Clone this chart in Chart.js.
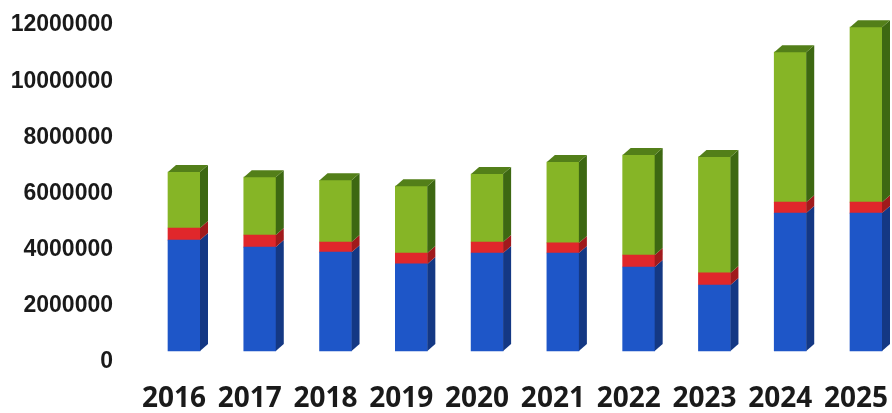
<!DOCTYPE html>
<html>
<head>
<meta charset="utf-8">
<script src="https://cdn.jsdelivr.net/npm/chart.js@4"></script>
<style>
  html, body { margin: 0; padding: 0; background: #fff; overflow: hidden; }
  #wrap { width: 892px; height: 413px; }
</style>
</head>
<body>
<div id="wrap"><canvas id="grafico" width="892" height="413"></canvas></div>
<script>
// --- Datos ---
const years = ['2016', '2017', '2018', '2019', '2020', '2021', '2022', '2023', '2024', '2025'];
const blueValues  = [3950000, 3700000, 3520000, 3100000, 3490000, 3490000, 2990000, 2350000, 4910000, 4910000];
const redValues   = [430000, 430000, 360000, 390000, 390000, 360000, 430000, 430000, 390000, 390000];
const greenValues = [1990000, 2060000, 2200000, 2380000, 2420000, 2880000, 3560000, 4130000, 5340000, 6230000];
const yTicks = [0, 2000000, 4000000, 6000000, 8000000, 10000000, 12000000];

// colores: frente, lateral, tapa
const blue  = { front: '#1e56c8', side: '#143884', top: '#1a4aa8' };
const red   = { front: '#e0272b', side: '#a01a1c', top: '#c82024' };
const green = { front: '#86b526', side: '#3d6812', top: '#537f19' };
const caras = [blue, red, green];

const DX = 8, DY = 7; // profundidad del efecto 3D

// --- Plugin: caras laterales y tapa superior ---
const efecto3D = {
  id: 'efecto3D',
  afterDatasetsDraw(chart) {
    const ctx = chart.ctx;
    const n = chart.data.datasets.length;
    for (let d = 0; d < n; d++) {
      const meta = chart.getDatasetMeta(d);
      meta.data.forEach(function (bar) {
        const half = bar.width / 2;
        const right = bar.x + half;
        const left = bar.x - half;
        const top = Math.min(bar.y, bar.base);
        const bottom = Math.max(bar.y, bar.base);
        ctx.save();
        // lateral
        ctx.fillStyle = caras[d].side;
        ctx.beginPath();
        ctx.moveTo(right, top);
        ctx.lineTo(right + DX, top - DY);
        ctx.lineTo(right + DX, bottom - DY);
        ctx.lineTo(right, bottom);
        ctx.closePath();
        ctx.fill();
        // tapa solo en la serie de arriba
        if (d === n - 1) {
          ctx.fillStyle = caras[d].top;
          ctx.beginPath();
          ctx.moveTo(left, top);
          ctx.lineTo(left + DX, top - DY);
          ctx.lineTo(right + DX, top - DY);
          ctx.lineTo(right, top);
          ctx.closePath();
          ctx.fill();
        }
        ctx.restore();
      });
    }
  }
};

// --- Gráfico ---
new Chart(document.getElementById('grafico'), {
  type: 'bar',
  data: {
    labels: years,
    datasets: [
      { label: 'Azul', data: blueValues, backgroundColor: blue.front, clip: false },
      { label: 'Rojo', data: redValues, backgroundColor: red.front, clip: false },
      { label: 'Verde', data: greenValues, backgroundColor: green.front, clip: false }
    ]
  },
  options: {
    responsive: false,
    animation: false,
    layout: { padding: { left: 8, right: 26, top: 14, bottom: 0 } },
    barThickness: 32,
    plugins: { legend: { display: false }, tooltip: { enabled: false } },
    scales: {
      x: {
        stacked: true,
        offset: false,
        grid: { display: false, drawTicks: false },
        border: { display: false },
        afterFit: function (axis) {
          axis.height = 62;
          axis.paddingLeft = 0;
          axis.paddingRight = 0;
        },
        ticks: {
          color: '#1a1a1a',
          font: { family: 'Open Sans', weight: 'bold', size: 28 },
          padding: 31,
          labelOffset: -10,
          maxRotation: 0,
          minRotation: 0,
          autoSkip: false
        }
      },
      y: {
        stacked: true,
        min: 0,
        max: 12000000,
        afterBuildTicks: function (axis) {
          axis.ticks = yTicks.map(function (v) { return { value: v }; });
        },
        afterFit: function (axis) {
          axis.width = 176;
          axis.paddingTop = 0;
          axis.paddingBottom = 0;
        },
        grid: { display: false, drawTicks: false },
        border: { display: false },
        ticks: {
          color: '#1a1a1a',
          font: { family: 'Liberation Sans', weight: 'bold', size: 23 },
          padding: 71,
          labelOffset: 11,
          callback: function (v) { return String(v); }
        }
      }
    }
  },
  plugins: [efecto3D]
});
</script>
</body>
</html>
